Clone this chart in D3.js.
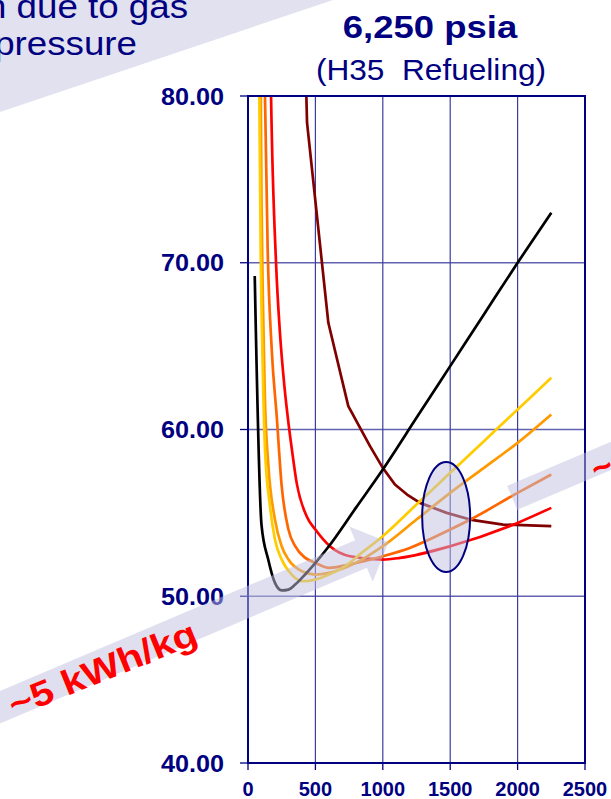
<!DOCTYPE html>
<html><head><meta charset="utf-8">
<script src="https://cdn.jsdelivr.net/npm/d3@7"></script>
<style>html,body{margin:0;padding:0;background:#fff;}svg{display:block;font-family:"Liberation Sans",Arial,sans-serif;}</style>
</head><body><svg id="c" width="611" height="799"></svg>
<script>
// ---- data ----
const xTicks = [0, 500, 1000, 1500, 2000, 2500];
const yTicks = [40, 50, 60, 70, 80];
const titleText = "6,250 psia";
const subtitleText = "(H35  Refueling)";
const noteLines = ["n due to gas", "pressure"];
const arrowLabel = "~5 kWh/kg";
const arrowLabel2 = "~";

const blackX = [50,100,150,200,250,300,350,400,500,600,800,1000,1250,1500,1750,2000,2250];
const blackY = [69.2,54.3,52.2,50.8,50.35,50.4,50.7,51.1,52.0,53.0,55.3,57.6,60.7,63.8,66.9,70.0,73.0];
const yellowX = [75,84,94,110,126,163,200,250,324,408,500,600,720,843,1000,1250,1500,1750,2000,2250];
const yellowY = [90,80,70.8,63.5,58.8,55.4,53.4,52.2,51.3,50.9,51.0,51.3,51.8,52.6,53.6,55.5,57.4,59.3,61.2,63.1];
const orangeX = [85,100,110,125,150,200,250,300,400,500,600,800,1000,1250,1500,1750,2000,2250];
const orangeY = [92,74,68,62,58,54.6,53.0,52.2,51.5,51.3,51.4,52.0,53.0,54.6,56.2,57.7,59.2,60.9];
const dkOrangeX = [110,126,146,176,213,250,300,350,425,500,600,750,1000,1200,1500,1650,2000,2250];
const dkOrangeY = [92,80,70.8,64.8,60.8,56.6,54.0,53.0,52.3,52.0,51.7,51.9,52.4,52.9,54.0,54.6,56.2,57.3];
const redX = [160,171,208,237,270,300,324,361,435,500,608,757,1000,1128,1500,2000,2250];
const redY = [86,80,70,65.8,62.6,60.4,58.9,56.8,54.8,54.0,53.0,52.4,52.2,52.3,53.0,54.4,55.3];
const maroonX = [420,438,596,744,905,1000,1090,1180,1276,1474,1647,1892,2250];
const maroonY = [84,78.4,66.4,61.4,59.0,57.7,56.7,56.1,55.6,55.0,54.6,54.3,54.2];

const series = [
  {x: maroonX, y: maroonY, color: "#800000", curve: d3.curveLinear},
  {x: redX, y: redY, color: "#ff0000", curve: d3.curveMonotoneX},
  {x: dkOrangeX, y: dkOrangeY, color: "#ff6600", curve: d3.curveMonotoneX},
  {x: orangeX, y: orangeY, color: "#ff9900", curve: d3.curveMonotoneX},
  {x: yellowX, y: yellowY, color: "#ffcc00", curve: d3.curveMonotoneX},
  {x: blackX, y: blackY, color: "#000000", curve: d3.curveMonotoneX}
];

// ---- layout ----
const svg = d3.select("#c");
const navy = "#000080";
const x = d3.scaleLinear().domain([0, 2500]).range([248, 585]);
const y = d3.scaleLinear().domain([40, 80]).range([763, 96]);

// top-left band + note
svg.append("polygon").attr("points", "0,0 333,0 0,112").attr("fill", "#e1e1ef");
noteLines.forEach((t, i) => {
  svg.append("text").attr("transform", `translate(${i ? 137 : 188},${i ? 55 : 18}) scale(1.08,1)`)
    .attr("text-anchor", "end").attr("fill", navy).attr("font-size", 34).text(t);
});

// title
svg.append("text").attr("transform", "translate(430,38) scale(1.14,1)").attr("text-anchor", "middle")
  .attr("font-weight", "bold").attr("font-size", 32).attr("fill", navy).text(titleText);
svg.append("text").attr("transform", "translate(431,80) scale(1.09,1)").attr("text-anchor", "middle")
  .attr("font-size", 29).attr("fill", navy).style("white-space", "pre").text(subtitleText);

// grid
const g = svg.append("g");
g.selectAll(".hg").data(yTicks.filter(d => d > 40 && d < 80)).join("line")
  .attr("x1", x(0)).attr("x2", x(2500)).attr("y1", d => y(d)).attr("y2", d => y(d))
  .attr("stroke", "#6262b0").attr("stroke-width", 1.3);
g.selectAll(".vg").data(xTicks.filter(d => d > 0 && d < 2500)).join("line")
  .attr("y1", y(40)).attr("y2", y(80)).attr("x1", d => x(d)).attr("x2", d => x(d))
  .attr("stroke", "#3c3ca0").attr("stroke-width", 1.2);

// clip
svg.append("clipPath").attr("id", "pc").append("rect")
  .attr("x", x(0)).attr("y", y(80)).attr("width", x(2500) - x(0)).attr("height", y(40) - y(80));

const lg = svg.append("g").attr("clip-path", "url(#pc)");
series.forEach(s => {
  const line = d3.line().x(d => x(d[0])).y(d => y(d[1])).curve(s.curve);
  lg.append("path").datum(s.x.map((v, i) => [v, s.y[i]])).attr("d", line)
    .attr("fill", "none").attr("stroke", s.color).attr("stroke-width", 2.7).attr("stroke-linejoin", "round");
});

// frame
svg.append("rect").attr("x", x(0)).attr("y", y(80)).attr("width", x(2500) - x(0)).attr("height", y(40) - y(80))
  .attr("fill", "none").attr("stroke", navy).attr("stroke-width", 2);

// axes ticks & labels
yTicks.forEach(v => {
  svg.append("line").attr("x1", x(0) - 8).attr("x2", x(0)).attr("y1", y(v)).attr("y2", y(v)).attr("stroke", navy).attr("stroke-width", 1.3);
  svg.append("text").attr("transform", `translate(224,${y(v) + 8.6}) scale(1.05,1)`).attr("text-anchor", "end")
    .attr("font-weight", "bold").attr("font-size", 24).attr("fill", navy).text(d3.format(".2f")(v));
});
xTicks.forEach(v => {
  svg.append("line").attr("x1", x(v)).attr("x2", x(v)).attr("y1", y(40)).attr("y2", y(40) + 7).attr("stroke", navy).attr("stroke-width", 1.3);
  svg.append("text").attr("x", x(v)).attr("y", 796).attr("text-anchor", "middle")
    .attr("font-weight", "bold").attr("font-size", 20).attr("fill", navy).text(v);
});

// arrows (annotation)
const ang = -23 * Math.PI / 180, ux = Math.cos(ang), uy = Math.sin(ang), nx = -uy, ny = ux;
const P = (c, a, b) => [c[0] + ux * a + nx * b, c[1] + uy * a + ny * b];
const M = [x(838), y(52.53)];
const h = 15, H = 30, L = 30;
const arrowPts = [P(M, -500, -h), P(M, 0, -h), P(M, 0, -H), P(M, L, 0), P(M, 0, H), P(M, 0, h), P(M, -500, h)];
svg.append("polygon").attr("points", arrowPts.map(p => p.join(",")).join(" "))
  .attr("fill", "#c0c0e0").attr("fill-opacity", 0.5);
const R = [x(1960), y(55.9)];
const bandPts = [P(R, 0, -13), P(R, 300, -13), P(R, 300, 13), P(R, 0, 13)];
svg.append("polygon").attr("points", bandPts.map(p => p.join(",")).join(" "))
  .attr("fill", "#c0c0e0").attr("fill-opacity", 0.5);

svg.append("text").attr("transform", "translate(107,680) rotate(-22) scale(1.15,1)").attr("text-anchor", "middle")
  .attr("font-weight", "bold").attr("font-size", 35).attr("fill", "#ff0000").text(arrowLabel);
svg.append("text").attr("transform", "translate(597,482) rotate(-23)")
  .attr("font-weight", "bold").attr("font-size", 35).attr("fill", "#ff0000").text(arrowLabel2);

// ellipse
svg.append("ellipse").attr("cx", x(1470)).attr("cy", y(54.75)).attr("rx", x(178) - x(0)).attr("ry", y(40) - y(43.3))
  .attr("fill", "#c0c0e0").attr("fill-opacity", 0.5).attr("stroke", navy).attr("stroke-width", 2);
</script></body></html>
